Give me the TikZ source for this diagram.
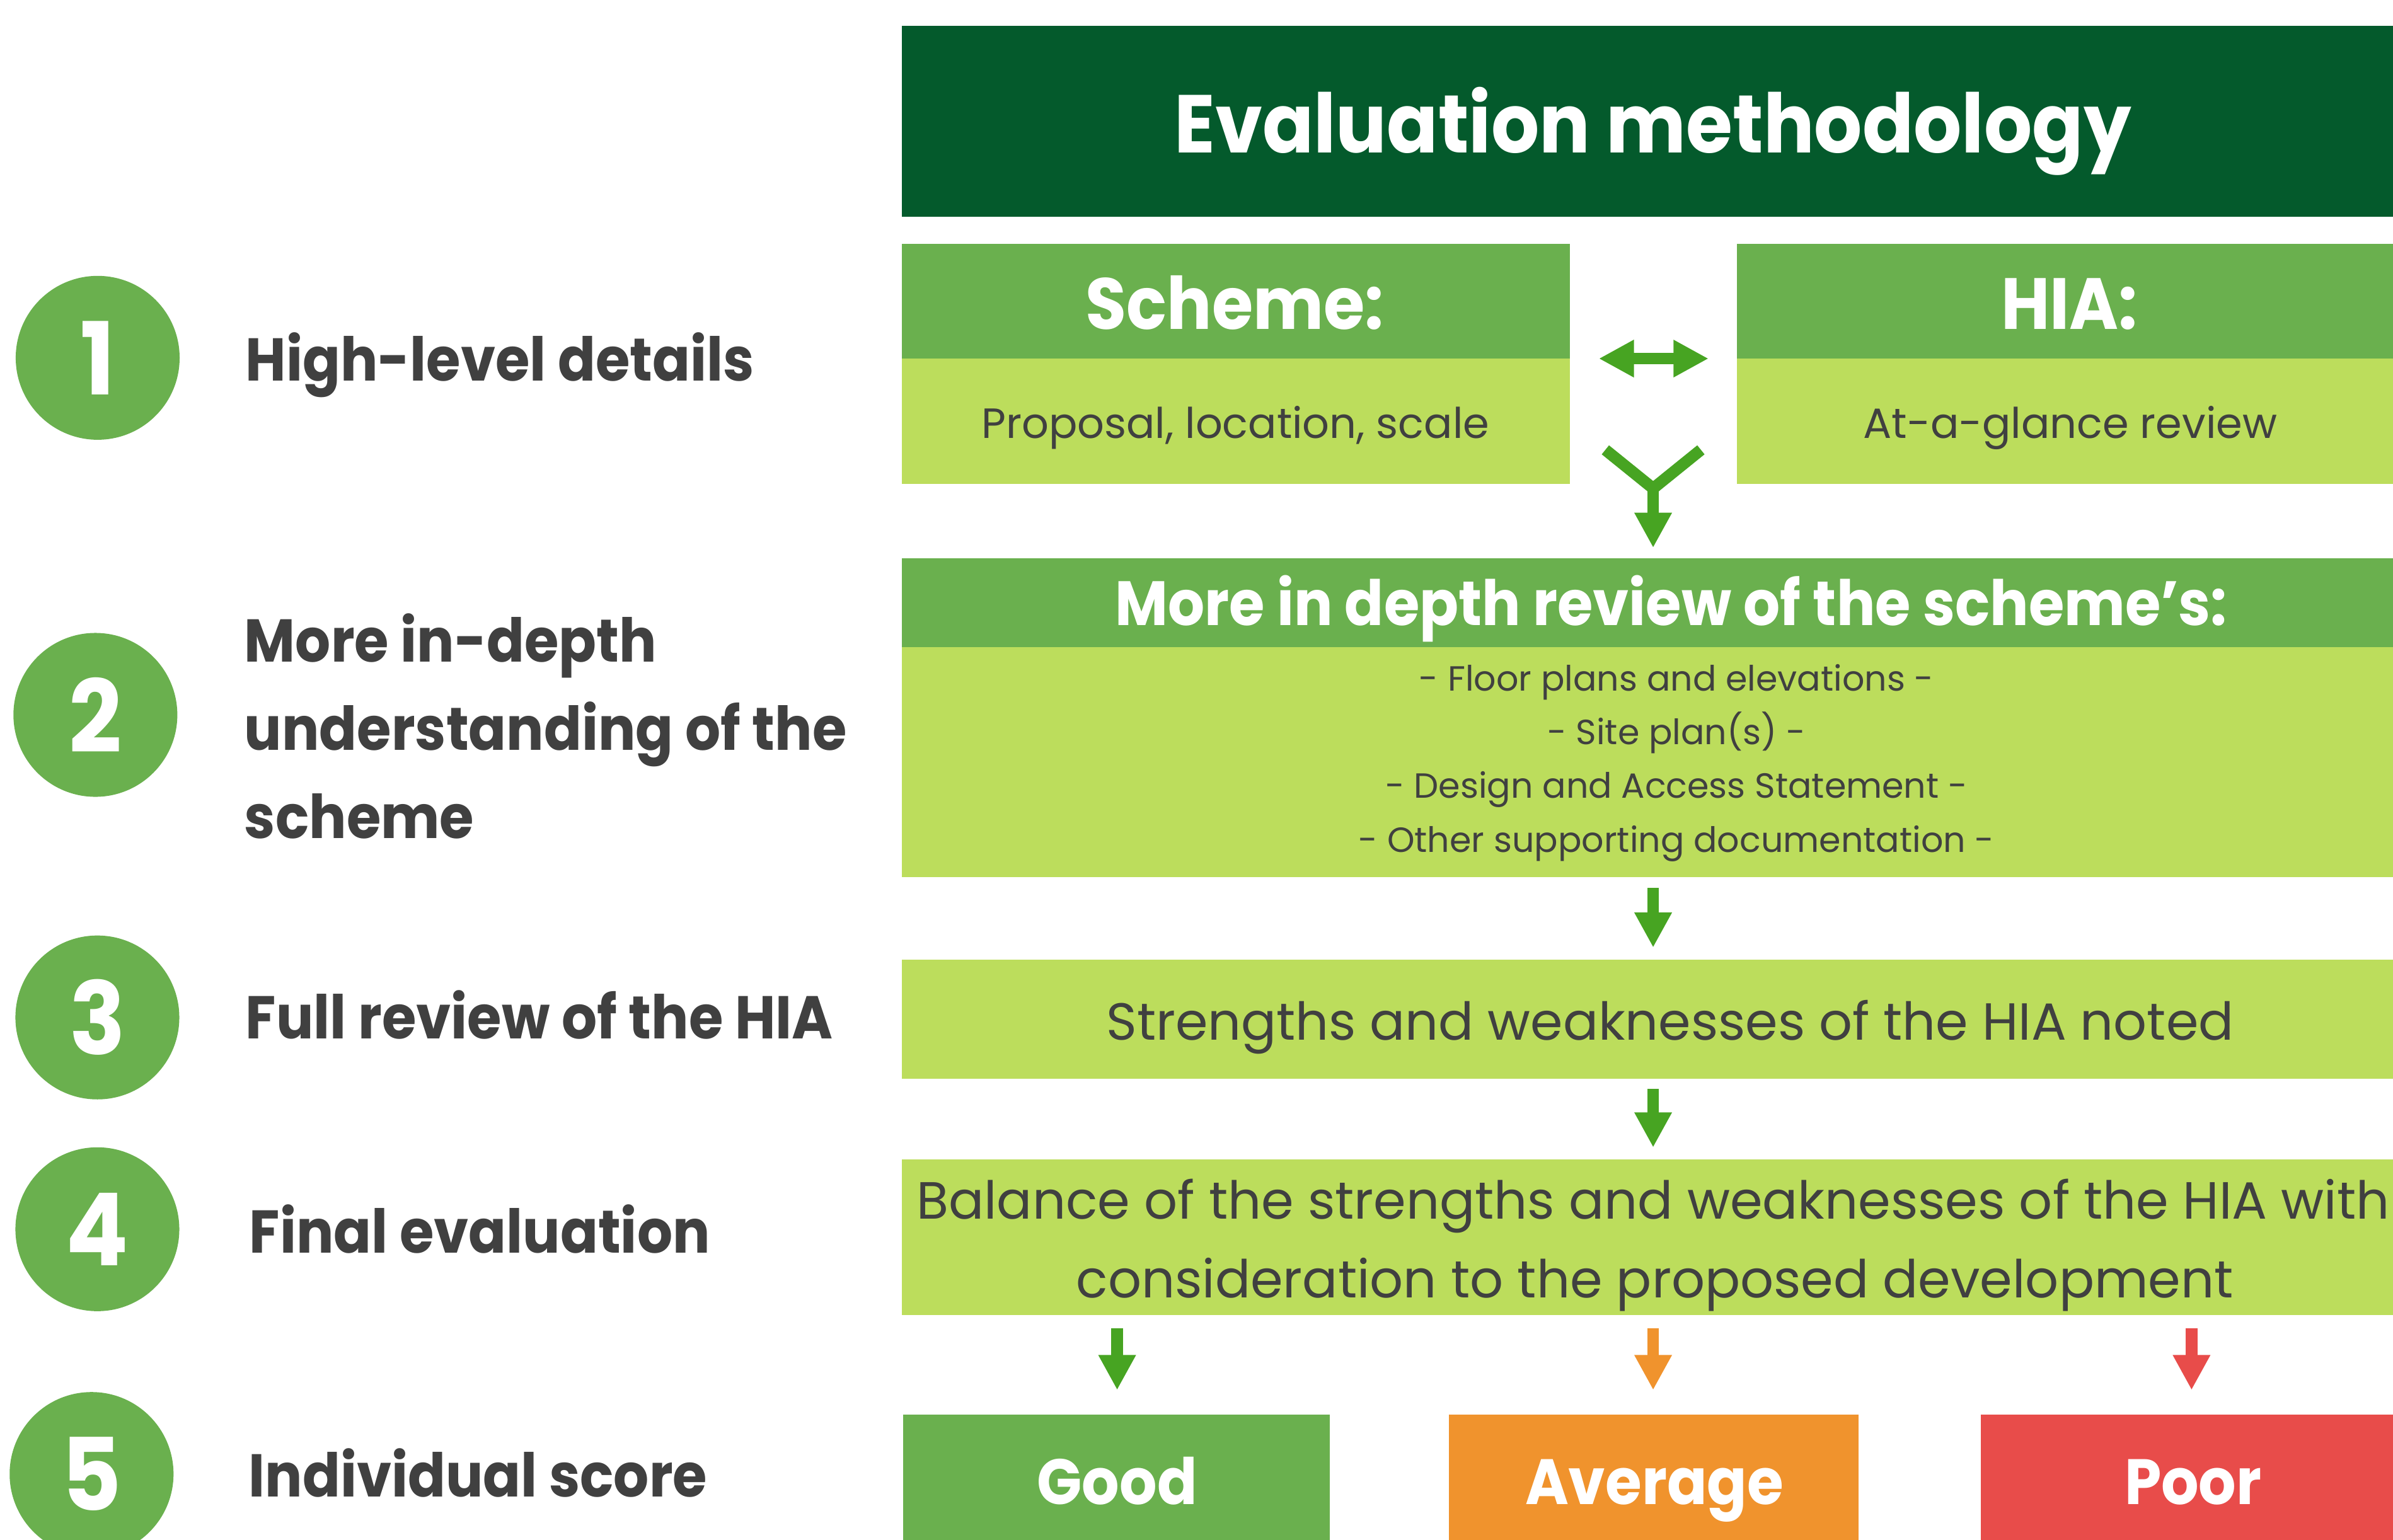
\documentclass[tikz,border=0pt]{standalone}
\usepackage{fontspec}
\setmainfont{Poppins}
\newfontfamily\bfam{Poppins}[FakeStretch=0.92]
\usetikzlibrary{arrows.meta}
\definecolor{darkg}{HTML}{045A2C}
\definecolor{midg}{HTML}{6AB04E}
\definecolor{lightg}{HTML}{BCDD5C}
\definecolor{arrg}{HTML}{47A422}
\definecolor{orng}{HTML}{F0932D}
\definecolor{redd}{HTML}{E84C4A}
\definecolor{txt}{HTML}{404040}
\newcommand{\fs}[1]{\fontsize{#1}{#1}\selectfont}
\begin{document}
\begin{tikzpicture}[x=1pt,y=-1pt,
  every node/.style={inner sep=0pt, outer sep=0pt},
  blk/.style={rectangle, anchor=north west, draw=none},
  hdr/.style={blk, fill=midg},
  bod/.style={blk, fill=lightg},
  wt/.style={anchor=base, text=white, font=\bfam\bfseries\fs{#1}},
  gt/.style={anchor=base, text=txt, font=\fs{#1}},
  num/.style={circle, fill=midg, minimum size=107.4pt, text=white, font=\bfam\bfseries\fs{66}},
  lbl/.style={anchor=base west, text=txt, font=\bfam\bfseries\fs{39.6}},
  arr/.style={line width=7.6pt, draw=#1, -{Triangle[width=23pt,length=23pt]}},
  arr/.default=arrg,
]
\useasboundingbox (0,0) rectangle (1568,1009);
\clip (0,0) rectangle (1568,1009);

% ---- left column ----
\node[num] (n1) at (64,234.5) {1};
\node[num] (n2) at (62.5,468.5) {2};
\node[num] (n3) at (63.8,666.8) {3};
\node[num] (n4) at (63.8,805.6) {4};
\node[num] (n5) at (60,966) {5};

\node[lbl] (l1) at (161,249.8) {High-level details};
\node[lbl] (l2a) at (160.2,433.9) {More in-depth};
\node[lbl] (l2b) at (160.2,491.7) {understanding of the};
\node[lbl] (l2c) at (160.2,549.6) {scheme};
\node[lbl] (l3) at (161,680.7) {Full review of the HIA};
\node[lbl] (l4) at (163.5,821.3) {Final evaluation};
\node[lbl] (l5) at (163,981) {Individual score};

% ---- boxes ----
\node[blk, fill=darkg, minimum width=990pt, minimum height=125pt] (title) at (591,17) {};
\node[hdr, minimum width=437.6pt, minimum height=75pt] (schH) at (591,160) {};
\node[bod, minimum width=437.6pt, minimum height=82pt] (schB) at (591,235) {};
\node[hdr, minimum width=440pt, minimum height=75pt] (hiaH) at (1138,160) {};
\node[bod, minimum width=440pt, minimum height=82pt] (hiaB) at (1138,235) {};
\node[hdr, minimum width=990pt, minimum height=58.3pt] (depH) at (591,366) {};
\node[bod, minimum width=990pt, minimum height=150.7pt] (depB) at (591,424.3) {};
\node[bod, minimum width=990pt, minimum height=77.8pt] (sw) at (591,629) {};
\node[bod, minimum width=990pt, minimum height=101.7pt] (bal) at (591,760) {};
\node[blk, fill=midg, minimum width=279.6pt, minimum height=90pt] (good) at (591.7,927) {};
\node[blk, fill=orng, minimum width=268.6pt, minimum height=90pt] (avg) at (949.4,927) {};
\node[blk, fill=redd, minimum width=290pt, minimum height=90pt] (poor) at (1298,927) {};

% ---- texts ----
\node[wt=53.8] (tTitle) at (1083,100.2) {Evaluation methodology};
\node[wt=47.5] (tSch) at (809,215.6) {Scheme:};
\node[wt=47.5] (tHia) at (1356,215.6) {HIA:};
\node[gt=27.7] (tProp) at (809.5,287.4) {Proposal, location, scale};
\node[gt=27.7] (tGl) at (1356.5,287.4) {At-a-glance review};
\node[wt=41] (tDep) at (1095,410) {More in depth review of the scheme’s:};
\node[gt=22.9] (tL1) at (1098.5,452.8) {- Floor plans and elevations -};
\node[gt=22.9] (tL2) at (1098.5,487.9) {- Site plan(s) -};
\node[gt=22.9] (tL3) at (1098.5,523) {- Design and Access Statement -};
\node[gt=22.9] (tL4) at (1098.5,558.5) {- Other supporting documentation -};
\node[gt=34.2] (tSw) at (1094.3,681.6) {Strengths and weaknesses of the HIA noted};
\node[gt=34.3] (tB1) at (1083.2,799) {Balance of the strengths and weaknesses of the HIA with};
\node[gt=34.3] (tB2) at (1084.3,850.4) {consideration to the proposed development};
\node[wt=42] (tGood) at (732,986) {Good};
\node[wt=42] (tAvg) at (1084,986) {Average};
\node[wt=42] (tPoor) at (1437,986) {Poor};

% ---- connectors ----
\coordinate (dA) at (1047.6,235);
\coordinate (dB) at (1119.5,235);
\draw[line width=7.6pt, draw=arrg, {Triangle[width=23pt,length=23pt]}-{Triangle[width=23pt,length=23pt]}] (dA) -- (dB);

\coordinate (yL) at (1051.9,294.8);
\coordinate (yR) at (1114.5,294.8);
\coordinate (yJ) at (1083.2,320.1);
\coordinate (yT) at (1083.2,359);
\draw[line width=7.6pt, draw=arrg] (yL) -- (yJ) -- (yR);
\draw[arr] (yJ) -- (yT);

\coordinate (a1s) at (1083.2,582);
\coordinate (a1e) at (1083.2,621);
\draw[arr] (a1s) -- (a1e);
\coordinate (a2s) at (1083.2,713.7);
\coordinate (a2e) at (1083.2,752);
\draw[arr] (a2s) -- (a2e);
\coordinate (gS) at (732,870.6);
\coordinate (gE) at (732,911);
\draw[arr] (gS) -- (gE);
\coordinate (oS) at (1083.2,870.6);
\coordinate (oE) at (1083.2,911);
\draw[arr=orng] (oS) -- (oE);
\coordinate (rS) at (1436,870.6);
\coordinate (rE) at (1436,911);
\draw[arr=redd] (rS) -- (rE);
\end{tikzpicture}
\end{document}
